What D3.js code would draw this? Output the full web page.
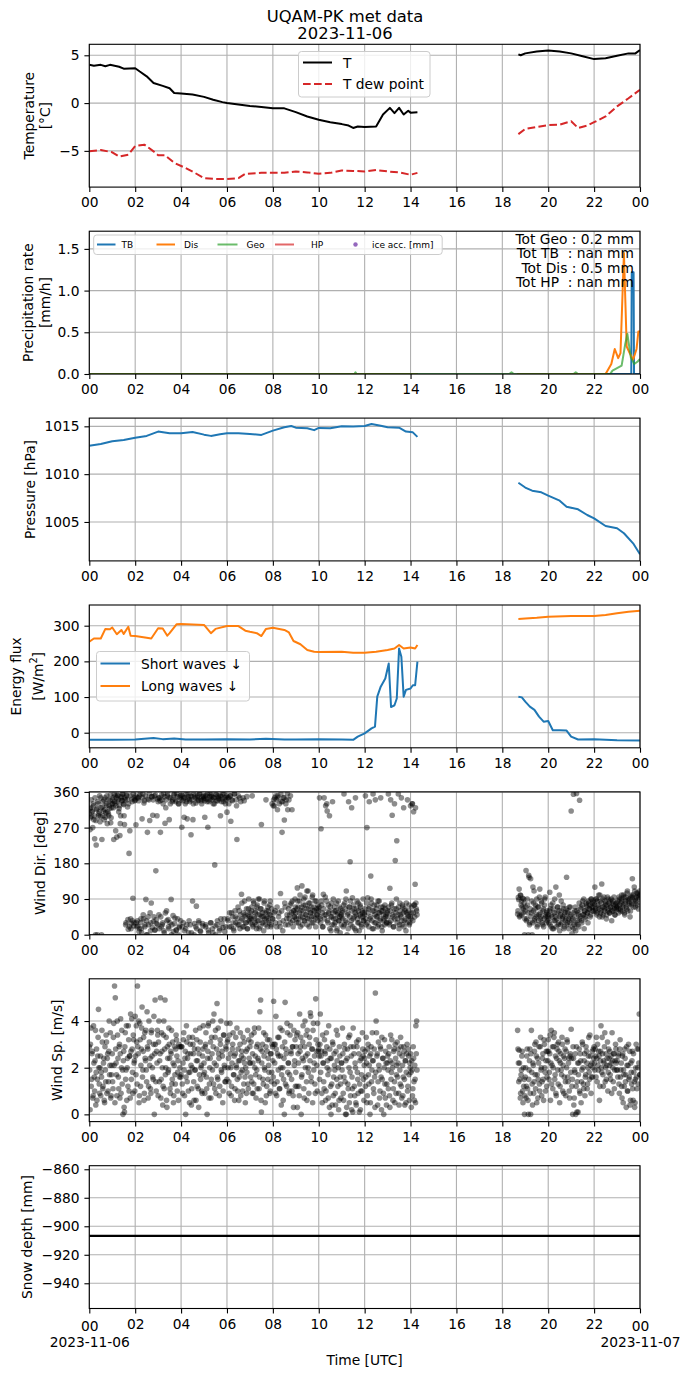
<!DOCTYPE html>
<html>
<head>
<meta charset="utf-8">
<script src="https://cdn.jsdelivr.net/npm/d3@7"></script>
<style>
  body { margin: 0; background: #fff; }
  svg { display: block; }
  text { font-family: "DejaVu Sans", sans-serif; }
</style>
</head>
<body>
<svg id="fig" width="690" height="1377"></svg>
<script>
// ---- axis ticks / labels ----
const hourTicks = [0, 2, 4, 6, 8, 10, 12, 14, 16, 18, 20, 22, 24];
const hourLabels = ['00', '02', '04', '06', '08', '10', '12', '14', '16', '18', '20', '22', '00'];
const dateLabels = ['2023-11-06', '2023-11-07'];

// ---- temperature (hours, degC), null = no data ----
const tHours = [0,0.2,0.5,0.7,0.9,1.0,1.3,1.5,2.0,2.2,2.5,2.8,3.2,3.5,3.7,4.0,4.5,5.0,5.4,5.8,6.0,6.5,7.0,7.5,8.0,8.5,9.0,9.5,10.0,10.5,11.0,11.3,11.5,11.7,12.0,12.5,12.8,13.1,13.3,13.5,13.7,13.9,14.0,14.3,16.5,18.7,18.8,19.0,19.5,20.0,20.5,21.0,21.5,22.0,22.5,23.0,23.5,23.8,24.0];
const tVals = [4.0,3.9,4.0,3.85,4.0,3.95,3.8,3.6,3.65,3.3,2.8,2.1,1.8,1.55,1.05,1.0,0.9,0.65,0.35,0.1,0.0,-0.15,-0.3,-0.4,-0.55,-0.55,-0.95,-1.4,-1.75,-2.0,-2.2,-2.35,-2.6,-2.45,-2.5,-2.45,-1.2,-0.5,-1.05,-0.5,-1.2,-0.8,-1.0,-0.95,null,5.1,5.0,5.2,5.4,5.5,5.4,5.2,4.9,4.6,4.7,4.95,5.2,5.2,5.55];
const tdHours = [0,0.5,1.0,1.3,1.7,2.0,2.4,2.8,3.0,3.3,3.7,4.2,4.6,5.0,5.5,6.0,6.5,6.8,7.5,8.0,8.5,9.0,9.5,10,10.5,11,11.5,12,12.5,13,13.5,14,14.3,16.5,18.7,19,19.5,20,20.5,21,21.3,21.7,22,22.5,23,23.5,24];
const tdVals = [-5.05,-4.9,-5.15,-5.6,-5.4,-4.5,-4.35,-5.05,-5.45,-5.45,-6.25,-6.8,-7.3,-7.85,-7.95,-7.95,-7.85,-7.4,-7.3,-7.3,-7.3,-7.15,-7.25,-7.4,-7.3,-7.05,-7.1,-7.15,-7.0,-7.15,-7.25,-7.5,-7.3,null,-3.25,-2.7,-2.5,-2.3,-2.25,-1.9,-2.6,-2.35,-2.0,-1.4,-0.35,0.5,1.4];

// ---- precipitation rate (mm/h) ----
const tbHours = [0,14.3,16.5,18.65,23.62,23.64,23.72,23.74,24];
const tbVals = [0,0,null,0,0,1.22,1.22,0,0];
const disHours = [0,14.3,16.5,18.65,22.5,22.75,22.9,23.05,23.15,23.3,23.42,23.55,23.7,23.85,23.93,24];
const disVals = [0,0,null,0,0,0.12,0.3,0.19,0.25,1.45,0.33,0.25,0.17,0.3,0.51,0.51];
const geoHours = [0,11.55,11.6,11.65,14.3,18.3,18.4,18.5,21.1,21.2,21.3,22.7,22.8,23.0,23.2,23.35,23.45,23.6,23.75,23.9,24];
const geoVals = [0,0,0.02,0,0,0,0.02,0,0,0.02,0,0,0.04,0.07,0.1,0.35,0.48,0.2,0.12,0.15,0.18];
const hpHours = [0,14.3];
const hpVals = [0,0];
const totals = ['Tot Geo : 0.2 mm', 'Tot TB  : nan mm', ' Tot Dis : 0.5 mm', 'Tot HP  : nan mm'];

// ---- pressure (hPa) ----
const pHours = [0,0.5,1,1.5,2,2.5,3,3.5,4,4.5,5,5.3,5.7,6,6.5,7,7.5,8,8.5,8.8,9,9.5,9.8,10,10.5,11,11.5,12,12.3,12.7,13,13.5,13.8,14.1,14.3,16.5,18.7,19,19.3,19.7,20,20.5,20.8,21.3,21.7,22,22.5,23,23.3,23.7,24];
const pVals = [1012.98,1013.15,1013.43,1013.57,1013.8,1014.0,1014.45,1014.27,1014.27,1014.4,1014.13,1014.0,1014.16,1014.27,1014.27,1014.2,1014.1,1014.55,1014.9,1015.03,1014.86,1014.8,1014.6,1014.83,1014.8,1015.0,1014.97,1015.03,1015.25,1015.07,1014.9,1014.86,1014.45,1014.37,1013.9,null,1009.1,1008.6,1008.27,1008.1,1007.75,1007.23,1006.6,1006.32,1005.73,1005.38,1004.58,1004.34,1003.82,1002.77,1001.62];

// ---- radiation (W/m2) ----
const swHours = [0,1,2,2.8,3.2,3.7,4.2,5,6,7,7.7,8.5,9,10,11,11.5,11.7,12.0,12.3,12.45,12.55,12.7,12.9,13.05,13.15,13.3,13.4,13.5,13.6,13.7,13.8,14.0,14.1,14.2,14.3,16.5,18.7,18.85,19.0,19.2,19.4,19.6,19.8,20.0,20.2,20.5,20.8,21.0,21.3,22,23,24];
const swVals = [-20,-20,-19,-15,-18,-16,-19,-19,-18,-19,-17,-19,-19,-18,-19,-20,-11,-2,12,17,101,129,152,194,72,77,96,236,213,101,120,124,133,133,199,null,101,99,87,73,64,45,31,33,7,7,6,-11,-19,-18,-21,-22];
const lwHours = [0,0.2,0.5,0.7,0.9,1.0,1.2,1.4,1.5,1.7,1.8,2.0,2.5,2.7,3.0,3.2,3.4,3.5,3.8,4.0,5.0,5.3,5.5,6.0,6.5,6.8,7.0,7.3,7.5,7.7,8.0,8.5,8.7,8.9,9.2,9.5,9.8,10,11,11.5,12,12.5,13,13.3,13.5,13.7,14,14.2,14.3,16.5,18.7,19,19.5,20,21,22,22.5,23,23.5,24];
const lwVals = [255,264,264,291,290,295,276,288,277,297,272,271,266,264,293,292,272,279,304,305,302,279,291,299,299,286,283,279,271,291,294,288,281,257,248,232,227,226,227,224,224,227,232,236,246,236,239,236,246,null,319,320,322,325,327,327,330,335,339,342];

// ---- wind, 2-minute samples; A blocks start 00:00 / 00:01, B blocks 18:40 / 18:41 ----
const windStartA = 0;
const windStartA2 = 1 / 60;
const windStartB = 18 + 40 / 60;
const windStartB2 = 18 + 41 / 60;
const windStep = 2 / 60;
const windDirA = [
  305,265,320,298,312,330,290,242,0,226,318,335,300,310,285,345,0,322,300,340,315,296,330,350,310,305,325,338,282,320,
  330,345,240,335,350,325,246,352,340,318,250,300,345,338,355,328,278,340,30,350,322,14,205,262,40,28,335,92,22,345,
  340,277,20,35,345,8,350,30,15,292,355,40,338,25,89,0,258,45,340,288,10,80,348,301,33,350,12,161,28,342,
  335,50,345,258,20,340,30,355,5,281,320,60,350,38,15,345,330,89,25,340,8,355,42,335,12,348,0,330,22,350,
  340,271,350,30,296,345,15,335,292,355,5,340,25,252,348,85,330,0,350,20,72,345,338,35,355,10,342,330,28,350,
  345,296,20,350,335,271,5,340,355,30,348,15,330,345,176,0,352,25,338,345,10,350,40,335,342,18,355,8,330,340,
  309,40,345,20,350,286,55,338,30,10,355,45,340,240,25,350,60,15,335,102,40,345,20,85,50,30,348,15,65,35,
  45,30,60,350,20,80,40,55,25,70,35,90,15,50,65,278,30,45,10,85,55,340,40,20,60,30,75,50,25,330,
  40,340,325,60,350,20,315,345,55,30,104,335,258,10,345,289,70,330,40,355,25,340,50,350,80,315,35,60,45,90,
  55,30,118,70,40,85,20,60,123,45,75,35,95,50,65,25,110,80,40,55,70,30,100,60,45,85,20,65,50,75,
  60,345,40,267,75,20,102,345,50,325,85,312,30,55,300,70,10,45,335,90,25,60,40,80,15,55,35,70,5,50,
  45,60,20,355,80,35,110,0,55,335,70,184,25,320,93,40,65,15,345,50,85,30,60,10,75,45,20,55,90,35,
  50,350,25,270,93,65,335,40,148,80,15,355,60,30,340,45,75,20,55,85,35,345,60,10,70,40,25,65,50,30,
  60,355,30,117,340,75,301,45,20,330,187,65,237,40,355,15,80,50,345,25,70,320,35,60,10,55,340,45,75,30,
  325,55,330,35,310,75,127,80,60
];
const windDirA2 = [
  318,295,340,310,270,325,300,345,288,315,0,330,305,350,298,320,240,335,312,290,345,308,326,280,340,300,318,352,295,330,
  340,320,355,330,262,345,335,350,310,325,280,348,338,355,330,300,345,25,352,340,38,330,20,350,15,342,35,355,30,338,
  350,30,345,22,338,15,355,40,5,345,50,332,20,350,35,0,342,25,355,55,30,348,18,340,45,12,352,38,300,25,
  345,15,338,45,352,25,330,10,348,55,340,35,355,20,290,30,345,0,335,48,352,28,340,12,355,40,330,18,345,35,
  352,20,338,345,10,330,355,25,342,348,35,335,350,5,340,290,355,28,345,332,15,350,340,30,355,8,338,348,22,342,
  338,350,25,342,355,12,335,348,30,352,340,5,345,330,22,355,338,35,350,342,15,300,348,28,355,335,40,345,20,350,
  345,35,330,55,350,20,340,45,15,355,60,30,325,40,70,25,345,50,35,80,20,55,338,45,30,65,15,50,90,40,
  55,40,70,25,85,45,30,60,15,75,50,35,90,20,65,45,55,30,80,40,25,60,45,70,35,50,85,20,65,40,
  325,55,345,30,340,70,350,45,330,20,355,60,335,35,345,80,25,340,50,315,65,40,75,30,55,85,20,60,45,70,
  40,65,85,30,55,100,45,70,25,60,90,35,75,50,110,40,65,20,80,55,45,95,30,70,60,40,85,50,35,65,
  70,45,30,85,55,20,65,40,95,50,330,35,75,60,15,45,80,25,55,40,70,30,60,10,50,85,35,45,65,25,
  55,40,75,25,65,90,30,50,15,70,45,85,35,60,20,75,45,55,10,65,40,80,30,50,70,25,60,45,35,55,
  65,40,80,30,55,20,70,45,90,35,60,15,75,50,30,65,45,85,25,55,40,70,20,60,50,35,75,45,30,55,
  45,70,25,60,35,80,50,20,65,40,55,90,30,50,70,25,60,45,35,75,55,20,65,40,80,30,50,60,25,45,
  40,70,330,55,75,45,320,65,50
];
const windDirB = [
  52,94,115,48,99,85,70,55,90,0,
  60,162,40,75,0,145,30,141,55,0,120,80,35,65,45,90,25,70,50,115,40,85,30,60,20,75,95,45,55,35,
  50,30,107,65,20,45,80,15,55,35,120,40,70,25,60,10,50,85,30,45,65,20,55,40,145,30,60,15,45,70,
  312,2,40,354,25,60,10,356,35,55,20,339,45,70,30,85,50,15,60,40,75,55,30,80,65,45,90,70,60,85,
  80,120,65,90,55,75,100,45,85,60,128,70,50,95,65,80,40,75,60,90,55,85,70,35,80,60,95,50,75,65,
  70,85,55,90,65,80,100,60,75,95,50,85,70,105,60,90,80,45,95,75,141,100,85,110,70,95,80,105,65,90,100
];
const windDirB2 = [
  60,88,45,100,75,50,92,65,80,40,
  70,35,90,55,150,25,65,45,85,30,60,110,40,75,50,20,70,35,95,55,45,80,25,65,40,90,50,30,60,45,
  40,60,25,75,50,15,65,35,90,45,20,55,70,30,100,45,25,60,40,75,15,50,35,65,25,55,40,70,30,50,
  35,20,55,15,45,70,30,60,25,50,80,40,65,35,75,50,90,60,45,80,70,55,85,65,75,50,90,80,70,60,
  75,60,90,50,85,70,65,100,55,80,45,90,70,60,85,75,50,95,65,80,55,70,90,60,85,75,65,50,80,70,
  80,65,95,75,60,90,85,70,100,55,80,95,65,110,85,75,90,60,100,80,95,70,120,90,85,105,75,100,95,110
];
const windSpA = [
  2.9,0.2,3.7,1.5,2.7,0.8,2.2,1.0,3.6,1.8,0.6,2.5,4.5,1.3,2.0,0.8,1.6,3.1,1.2,2.4,0.5,1.9,3.4,0.9,2.6,1.4,4.0,2.1,0.7,1.7,
  2.6,1.1,3.9,5.5,5.0,2.2,0.8,3.4,1.6,2.9,0.7,4.1,2.0,1.3,0.0,2.7,0.1,3.5,1.9,0.6,2.4,3.8,1.0,2.5,4.3,1.5,2.8,0.9,3.2,2.3,
  4.2,1.7,3.1,5.5,2.6,0.5,3.9,1.2,2.8,4.6,1.9,3.3,0.9,2.4,3.6,1.4,2.9,0.7,4.0,2.1,1.1,3.5,2.5,1.6,3.0,0.0,4.9,1.4,2.7,3.6,
  0.8,4.0,2.3,5.0,1.5,2.7,0.4,3.4,1.1,4.9,2.0,0.6,2.9,1.8,3.7,2.4,0.9,2.6,1.3,3.1,0.5,2.1,1.7,2.8,3.2,1.0,2.3,3.0,1.6,2.9,
  1.7,2.9,0.9,3.2,1.9,2.4,0.0,3.8,1.4,2.6,1.8,0.5,3.0,2.1,1.1,3.3,2.6,0.6,1.9,3.6,2.3,1.2,2.8,0.3,1.7,3.1,2.0,1.0,2.5,3.8,
  2.2,0.9,3.0,1.6,0.0,2.7,3.9,1.3,2.4,0.7,3.3,1.9,2.9,4.3,1.1,3.6,2.1,4.75,1.5,2.6,0.8,3.2,4.0,1.8,2.5,1.0,3.4,2.0,1.4,2.8,
  1.5,3.2,2.4,0.9,3.9,2.0,1.2,2.8,3.5,1.7,0.6,2.6,2.1,3.7,1.0,2.3,1.6,3.0,0.8,2.5,1.9,3.3,1.3,2.2,0.5,2.7,1.8,3.6,1.1,2.4,
  2.9,1.6,3.4,0.9,2.2,1.3,3.7,2.5,0.7,1.9,3.0,2.3,1.1,4.4,4.9,0.1,2.7,1.5,3.5,2.0,0.5,2.9,1.2,3.2,2.4,1.8,0.9,2.6,1.4,3.0,
  2.3,4.85,1.3,3.0,4.2,0.8,2.6,1.9,3.3,1.1,2.5,0.4,3.6,2.0,1.5,0.0,4.8,2.8,1.2,3.5,2.2,0.9,1.7,3.8,2.6,1.0,2.9,0.3,2.1,3.2,
  1.8,3.4,0.3,2.6,1.2,4.3,2.9,0.0,1.7,3.1,2.3,0.7,4.0,2.5,1.4,3.6,2.0,0.9,3.3,4.35,1.6,2.8,0.5,3.9,2.2,1.3,4.95,2.7,1.0,3.0,
  2.8,1.5,4.3,2.5,0.9,3.4,2.2,1.1,2.7,0.6,3.5,2.0,1.7,3.8,0.3,2.4,0.0,1.3,3.1,0.8,2.6,1.9,0.4,3.6,2.3,1.2,0.2,2.9,1.6,0.7,
  2.2,3.7,0.9,1.6,2.8,0.0,0.0,2.4,1.3,3.3,0.5,1.8,2.9,0.2,1.1,3.7,2.6,0.8,2.0,0.4,2.9,1.5,3.2,0.1,2.3,1.0,1.7,3.5,2.5,0.6,
  2.4,1.2,3.3,0.5,2.8,1.7,2.1,0.0,2.6,1.4,3.5,2.3,0.9,1.6,5.2,4.0,2.5,0.4,3.1,1.9,1.0,2.8,0.2,1.5,2.4,0.0,3.2,0.7,2.2,1.3,
  2.5,1.1,2.9,0.3,3.4,1.8,2.2,0.6,2.7,1.4,3.0,0.9,2.1,1.6,2.8,0.4,1.9,3.3,1.2,2.5,0.8,2.9,1.5,2.3,0.5,2.6,1.0,2.8,1.7,2.2,
  2.6,0.3,1.9,1.1,2.4,0.6,1.5,3.8,4.0
];
const windSpA2 = [
  1.9,3.0,1.2,2.6,0.7,3.8,1.6,2.3,0.4,2.8,1.5,3.3,2.0,0.9,2.5,1.8,3.6,1.1,2.2,0.6,2.9,1.4,3.1,2.4,1.0,2.7,1.7,3.5,0.8,2.1,
  1.4,3.3,2.1,0.5,2.8,1.7,4.0,2.4,1.1,3.0,2.6,0.9,3.6,1.9,2.3,0.3,2.9,1.5,3.8,2.0,1.2,3.2,2.5,0.7,2.7,4.1,1.8,3.4,2.2,1.0,
  2.5,3.8,1.3,2.9,4.0,0.8,3.2,2.1,3.7,1.6,2.7,0.6,3.5,2.3,1.9,4.4,2.8,1.2,3.1,2.4,0.9,3.6,2.0,1.5,4.2,2.6,3.0,1.0,2.2,3.4,
  3.1,1.4,2.6,0.7,3.5,2.0,1.2,4.0,2.8,1.7,3.3,0.3,2.4,1.9,3.0,1.1,2.7,3.6,1.5,2.2,0.8,2.9,1.3,3.4,2.5,1.8,0.6,2.9,2.0,1.6,
  2.9,1.3,2.2,3.5,0.8,2.7,1.6,3.1,2.4,1.0,3.3,1.8,2.6,0.4,2.0,3.0,1.4,2.8,1.9,0.6,3.2,2.3,1.1,2.6,3.7,1.5,2.1,0.9,2.8,1.7,
  1.8,2.9,3.5,1.1,2.4,3.8,0.7,2.0,3.1,1.5,2.6,4.0,1.3,2.2,3.3,0.9,2.8,1.6,3.7,2.4,1.2,3.0,1.9,2.7,0.5,3.4,2.1,1.4,2.9,3.9,
  3.1,2.0,1.4,3.4,2.6,0.8,2.2,3.0,1.7,2.5,1.1,3.3,2.0,1.5,2.8,0.6,2.3,3.5,1.8,2.7,1.0,2.4,3.1,1.6,2.0,0.9,2.8,1.3,3.2,2.2,
  2.2,3.1,1.4,2.6,0.9,3.5,2.0,1.7,2.9,1.1,2.4,3.7,1.6,2.8,0.6,2.2,3.0,1.3,2.5,1.9,3.4,0.8,2.7,1.5,2.1,3.2,1.0,2.6,1.8,2.9,
  1.6,3.0,2.2,0.9,2.8,1.4,3.3,2.5,1.1,3.7,2.0,1.7,2.9,0.6,2.4,3.1,1.3,2.6,3.9,1.8,2.2,1.0,3.4,2.7,1.5,2.9,0.8,3.6,2.3,1.2,
  2.9,1.2,3.5,2.2,0.8,2.7,3.3,1.6,2.4,3.8,1.1,2.9,2.0,3.4,0.6,2.6,1.8,3.0,2.3,4.2,1.4,2.8,3.6,1.9,2.5,0.9,3.2,2.1,3.9,2.7,
  2.5,3.0,1.8,2.7,0.5,2.2,1.4,3.2,2.6,1.0,2.9,2.3,0.7,1.9,2.8,1.2,2.4,0.4,3.0,1.6,2.1,0.9,2.7,1.5,3.4,2.0,0.6,2.5,1.3,2.2,
  1.9,2.6,0.6,3.0,1.4,2.3,0.3,2.8,1.1,2.0,3.4,0.8,2.5,1.6,0.1,2.9,1.2,2.2,0.5,3.1,1.8,0.9,2.6,1.3,0.2,2.4,1.0,2.8,1.5,2.1,
  2.7,1.6,2.2,0.8,3.0,1.3,2.5,0.5,2.9,1.9,2.3,1.1,2.8,0.3,1.8,3.5,2.6,1.4,2.1,0.7,2.9,1.6,3.3,2.4,0.9,2.0,1.3,2.7,0.4,2.2,
  1.9,2.6,0.8,2.3,1.5,3.2,2.0,1.1,2.8,0.5,2.4,1.7,3.1,2.2,0.9,2.6,1.3,2.9,0.7,2.1,1.6,2.7,0.4,2.3,1.8,3.0,1.2,2.5,0.6,2.0,
  1.8,2.3,0.8,2.9,1.4,2.1,0.5,2.6,1.9
];
const windSpB = [
  3.6,2.2,2.75,1.5,0.9,1.9,2.7,0.5,1.2,0.0,
  1.6,0.7,2.5,1.1,0.0,1.9,2.8,0.0,3.6,1.3,2.2,0.9,2.7,1.7,3.1,0.5,2.4,1.5,2.9,1.0,3.3,2.0,1.4,2.6,0.6,3.0,1.8,2.3,1.2,2.7,
  3.2,1.5,2.6,0.6,3.6,2.1,1.1,2.9,3.5,1.7,0.9,2.4,3.0,1.3,2.7,0.5,2.2,1.9,3.3,1.0,2.5,1.6,2.8,0.8,2.0,3.1,1.4,2.4,0.7,2.6,
  3.65,1.2,0.0,2.4,0.7,1.8,0.0,2.9,1.4,0.1,2.2,1.0,2.6,0.5,1.9,3.0,1.3,2.3,0.8,1.7,2.7,1.1,2.0,3.3,1.5,2.5,0.9,2.2,1.6,2.8,
  2.9,1.9,2.5,3.3,1.4,2.1,2.7,0.6,2.3,3.8,1.8,2.6,1.2,2.2,3.5,2.0,1.5,2.4,1.0,2.8,2.1,1.7,2.5,0.9,2.3,1.4,2.6,1.9,3.0,2.2,
  2.3,1.6,2.6,0.9,3.2,1.9,1.2,2.5,0.5,1.7,2.8,1.4,0.3,2.1,1.0,3.0,1.6,0.4,2.2,1.3,2.7,0.6,1.8,0.3,1.5,3.0,1.1,2.0,2.8,4.3,1.7
];
const windSpB2 = [
  2.8,1.4,2.2,0.7,1.7,2.5,1.0,2.0,1.5,0.8,
  2.0,1.2,2.8,0.6,1.5,2.3,0.9,2.6,1.8,0.4,2.1,1.4,3.0,1.1,2.5,1.7,0.7,2.2,1.3,2.9,1.9,0.8,2.4,1.5,3.2,2.0,1.0,2.7,1.6,2.3,
  2.7,1.8,3.4,2.2,1.3,2.9,2.0,3.3,1.5,2.5,0.8,2.8,1.9,3.1,2.3,1.2,2.6,1.7,3.0,2.1,0.9,2.4,1.4,2.7,3.2,1.6,2.2,1.0,2.5,1.8,
  2.4,1.5,2.9,0.4,1.9,2.6,1.2,0.1,2.2,1.7,2.8,0.9,2.3,1.4,3.1,2.0,1.1,2.6,1.6,2.9,2.2,1.3,2.5,1.8,3.4,2.1,1.6,2.7,2.0,2.4,
  2.2,2.8,1.6,2.4,3.0,1.9,2.5,1.2,2.7,2.0,3.3,1.7,2.3,2.9,1.4,2.6,2.1,3.1,1.8,2.4,2.7,1.5,2.2,3.5,2.0,2.6,1.1,2.3,2.8,1.9,
  1.9,2.5,1.3,2.8,1.6,2.2,0.7,2.6,1.9,1.2,2.4,1.7,2.9,1.0,2.1,1.5,2.7,0.6,1.8,2.3,1.1,2.6,1.4,0.5,2.0,1.6,2.8,1.3,2.2,1.7
];

// ---- snow depth (mm) ----
const snowHours = [0, 24];
const snowVals = [-906.8, -906.8];

// ================= drawing =================
const svg = d3.select('#fig');
const X0 = 89.3, X1 = 640, TOP = 44.3, PITCH = 186.9, PH = 142.8;
const FS = 13.8;
const x = d3.scaleLinear().domain([0, 24]).range([X0, X1]);
const minus = s => String(s).replace('-', '\u2212');

svg.append('text').attr('x', 345).attr('y', 22).attr('text-anchor', 'middle')
  .attr('font-size', 16.4).text('UQAM-PK met data');
svg.append('text').attr('x', 345).attr('y', 39).attr('text-anchor', 'middle')
  .attr('font-size', 16.4).text('2023-11-06');

function panel(i, domain, ticks, fmt, labels) {
  const top = TOP + i * PITCH, bottom = top + PH;
  const y = d3.scaleLinear().domain(domain).range([bottom, top]);
  const g = svg.append('g');

  const grid = g.append('g').attr('stroke', '#b0b0b0').attr('stroke-width', 1.1);
  grid.selectAll('.gx').data(hourTicks).join('line').attr('class', 'gx')
    .attr('x1', d => x(d)).attr('x2', d => x(d)).attr('y1', top).attr('y2', bottom);
  grid.selectAll('.gy').data(ticks).join('line').attr('class', 'gy')
    .attr('x1', X0).attr('x2', X1).attr('y1', d => y(d)).attr('y2', d => y(d));

  const clipId = 'clip' + i;
  svg.append('clipPath').attr('id', clipId).append('rect')
    .attr('x', X0).attr('y', top).attr('width', X1 - X0).attr('height', PH);
  const plot = g.append('g').attr('clip-path', `url(#${clipId})`);
  const front = g.append('g');

  const xa = front.append('g').attr('transform', `translate(0,${bottom})`)
    .call(d3.axisBottom(x).tickValues(hourTicks).tickFormat((d, k) => hourLabels[k])
      .tickSize(4.9).tickPadding(5.5));
  const ya = front.append('g').attr('transform', `translate(${X0},0)`)
    .call(d3.axisLeft(y).tickValues(ticks).tickFormat(d => minus(fmt(d)))
      .tickSize(4.9).tickPadding(4.9));
  [xa, ya].forEach(a => {
    a.select('.domain').remove();
    a.attr('font-size', FS).attr('font-family', '"DejaVu Sans", sans-serif');
    a.selectAll('line').attr('stroke-width', 1.1);
  });

  front.append('rect').attr('x', X0).attr('y', top).attr('width', X1 - X0).attr('height', PH)
    .attr('fill', 'none').attr('stroke', '#000').attr('stroke-width', 1.1);

  labels.forEach(([txt, lx]) => {
    front.append('text')
      .attr('transform', `translate(${lx},${(top + bottom) / 2}) rotate(-90)`)
      .attr('text-anchor', 'middle').attr('dominant-baseline', 'central')
      .attr('font-size', FS).text(txt);
  });
  return { y, plot, front, top, bottom, xa };
}

function drawLine(p, hours, vals, color, width, opts = {}) {
  const pts = hours.map((h, k) => [h, vals[k]]);
  const line = d3.line().defined(d => d[1] !== null).x(d => x(d[0])).y(d => p.y(d[1]));
  const path = p.plot.append('path').datum(pts).attr('d', line)
    .attr('fill', 'none').attr('stroke', color).attr('stroke-width', width)
    .attr('stroke-linejoin', 'round');
  if (opts.dash) path.attr('stroke-dasharray', opts.dash);
  if (opts.opacity) path.attr('stroke-opacity', opts.opacity);
}

function drawDots(p, start, vals) {
  p.plot.append('g').selectAll('circle').data(vals).join('circle')
    .attr('cx', (d, k) => x(start + k * windStep)).attr('cy', d => p.y(d))
    .attr('r', 2.8).attr('fill', '#000').attr('fill-opacity', 0.45);
}

function legend(p, box, items, fs) {
  const lg = p.front.append('g');
  lg.append('rect').attr('x', box[0]).attr('y', box[1]).attr('width', box[2]).attr('height', box[3])
    .attr('rx', 3).attr('fill', '#fff').attr('fill-opacity', 0.8)
    .attr('stroke', '#cccccc').attr('stroke-width', 1);
  items.forEach(it => {
    if (it.dot) {
      lg.append('circle').attr('cx', it.x0).attr('cy', it.y).attr('r', 2.2).attr('fill', it.color);
    } else {
      const l = lg.append('line').attr('x1', it.x0).attr('x2', it.x1).attr('y1', it.y).attr('y2', it.y)
        .attr('stroke', it.color).attr('stroke-width', it.w || 2);
      if (it.dash) l.attr('stroke-dasharray', it.dash);
      if (it.opacity) l.attr('stroke-opacity', it.opacity);
    }
    lg.append('text').attr('x', it.tx).attr('y', it.y).attr('dominant-baseline', 'central')
      .attr('font-size', fs).text(it.label);
  });
}

// 1 temperature
const p1 = panel(0, [-8.79, 6.15], [-5, 0, 5], d3.format('d'), [['Temperature', 28.6], ['[°C]', 44.5]]);
drawLine(p1, tHours, tVals, '#000', 2);
drawLine(p1, tdHours, tdVals, '#d62728', 2, { dash: '7.7,3.3' });
legend(p1, [298.5, 51.5, 131.5, 45.5], [
  { label: 'T', color: '#000', x0: 303, x1: 332, tx: 343, y: 62.5 },
  { label: 'T dew point', color: '#d62728', dash: '7.7,3.3', x0: 303, x1: 332, tx: 343, y: 84 }
], FS);

// 2 precipitation
const p2 = panel(1, [0, 1.712], [0, 0.5, 1.0, 1.5], d3.format('.1f'), [['Precipitation rate', 27.8], ['[mm/h]', 45]]);
drawLine(p2, hpHours, hpVals, '#d62728', 2, { opacity: 0.7 });
drawLine(p2, tbHours, tbVals, '#1f77b4', 2);
drawLine(p2, disHours, disVals, '#ff7f0e', 2);
drawLine(p2, geoHours, geoVals, '#2ca02c', 2, { opacity: 0.7 });
legend(p2, [93.7, 235, 348.5, 19.5], [
  { label: 'TB', color: '#1f77b4', x0: 97, x1: 115.5, tx: 121.5, y: 244.5 },
  { label: 'Dis', color: '#ff7f0e', x0: 156.5, x1: 175, tx: 184, y: 244.5 },
  { label: 'Geo', color: '#2ca02c', opacity: 0.7, x0: 217.5, x1: 237.5, tx: 246.5, y: 244.5 },
  { label: 'HP', color: '#d62728', opacity: 0.7, x0: 275, x1: 294, tx: 311, y: 244.5 },
  { label: 'ice acc. [mm]', color: '#9467bd', dot: true, x0: 355.5, tx: 372, y: 244.5 }
], 9);
const tot = p2.front.append('text').attr('text-anchor', 'end').attr('font-size', FS)
  .attr('xml:space', 'preserve').style('white-space', 'pre');
totals.forEach((t, k) => {
  tot.append('tspan').attr('x', 634).attr('y', 244.3 + k * 14.1).text(t);
});

// 3 pressure
const p3 = panel(2, [1000.93, 1015.86], [1005, 1010, 1015], d3.format('d'), [['Pressure [hPa]', 29.5]]);
drawLine(p3, pHours, pVals, '#1f77b4', 2);

// 4 radiation
const p4 = panel(3, [-42.3, 358], [0, 100, 200, 300], d3.format('d'), [['Energy flux', 16]]);
{
  const t = p4.front.append('text')
    .attr('transform', `translate(38,${(p4.top + p4.bottom) / 2}) rotate(-90)`)
    .attr('text-anchor', 'middle').attr('dominant-baseline', 'central').attr('font-size', FS);
  t.append('tspan').text('[W/m');
  t.append('tspan').attr('font-size', 9.7).attr('dy', -5).text('2');
  t.append('tspan').attr('dy', 5).text(']');
}
drawLine(p4, swHours, swVals, '#1f77b4', 2);
drawLine(p4, lwHours, lwVals, '#ff7f0e', 2);
legend(p4, [96.5, 651.5, 153, 49.5], [
  { label: 'Short waves \u2193', color: '#1f77b4', x0: 100.5, x1: 130, tx: 141, y: 663.5 },
  { label: 'Long waves \u2193', color: '#ff7f0e', x0: 100.5, x1: 130, tx: 141, y: 686 }
], FS);

// 5 wind direction
const p5 = panel(4, [0, 360], [0, 90, 180, 270, 360], d3.format('d'), [['Wind Dir. [deg]', 39.6]]);
drawDots(p5, windStartA, windDirA);
drawDots(p5, windStartA2, windDirA2);
drawDots(p5, windStartB, windDirB);
drawDots(p5, windStartB2, windDirB2);

// 6 wind speed
const p6 = panel(5, [-0.31, 5.81], [0, 2, 4], d3.format('d'), [['Wind Sp. [m/s]', 56.8]]);
drawDots(p6, windStartA, windSpA);
drawDots(p6, windStartA2, windSpA2);
drawDots(p6, windStartB, windSpB);
drawDots(p6, windStartB2, windSpB2);

// 7 snow depth
const p7 = panel(6, [-957.7, -857.5], [-940, -920, -900, -880, -860], d3.format('d'), [['Snow depth [mm]', 26.8]]);
drawLine(p7, snowHours, snowVals, '#000', 2.2);
p7.xa.selectAll('.tick text').each(function (d, k) {
  if (k === 0 || k === hourTicks.length - 1) {
    const t = d3.select(this);
    t.attr('y', 12.4);
    t.append('tspan').attr('x', 0).attr('dy', '1.2em').text(k === 0 ? dateLabels[0] : dateLabels[1]);
  }
});
svg.append('text').attr('x', 364.6).attr('y', 1365).attr('text-anchor', 'middle')
  .attr('font-size', FS).text('Time [UTC]');
</script>
</body>
</html>
